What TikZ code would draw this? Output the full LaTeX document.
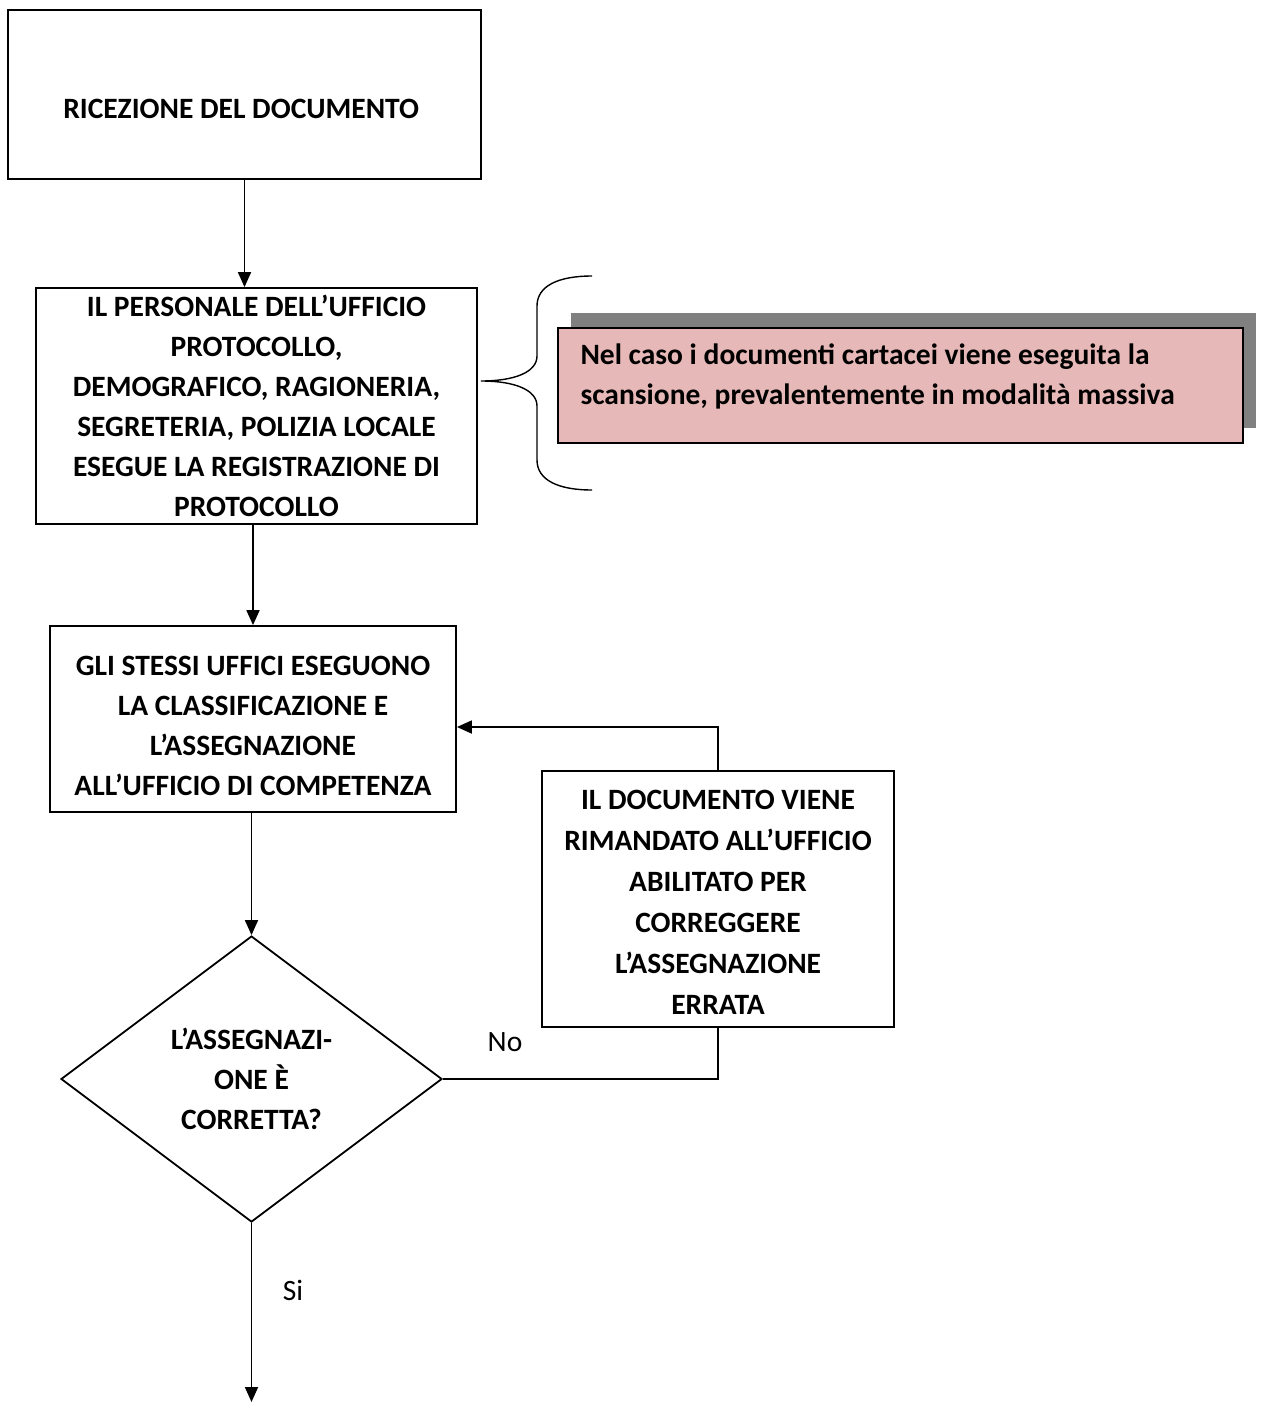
\documentclass[tikz,border=0pt]{standalone}
\usepackage{fontspec}
\setmainfont{Carlito}
\usetikzlibrary{arrows.meta,shapes.geometric,shadows}
\definecolor{notapink}{HTML}{E6B8B7}
\begin{document}
\begin{tikzpicture}[x=1pt, y=-1pt,
    box/.style={draw, line width=1.8pt, align=center, inner sep=0pt, font=\fontsize{29.5}{40}\selectfont\bfseries},
    decision/.style={draw, diamond, aspect=1.33, line width=1.8pt, align=center, inner sep=0pt, font=\fontsize{29.5}{40}\selectfont\bfseries},
    nota/.style={draw, line width=1.8pt, fill=notapink, text width=640pt, align=flush left, font=\fontsize{29.5}{40}\selectfont\bfseries,
        drop shadow={shadow xshift=13pt, shadow yshift=15pt, fill=gray, opacity=1}},
    arrow/.style={-{Triangle[length=15pt,width=13pt]}, line width=1.8pt},
    link/.style={line width=1.8pt},
    answer/.style={font=\fontsize{29.5}{40}\selectfont}
]
\useasboundingbox (0,0) rectangle (1267,1403);

\node[box, minimum width=473pt, minimum height=169pt, text height=54pt, text depth=7pt] (rec) at (244.5,94.5) {
    RICEZIONE DEL DOCUMENTO
};

\node[box, minimum width=441pt, minimum height=236pt] (pers) at (256.5,406) {
    IL PERSONALE DELL’UFFICIO\\
    PROTOCOLLO,\\
    DEMOGRAFICO, RAGIONERIA,\\
    SEGRETERIA, POLIZIA LOCALE\\
    ESEGUE LA REGISTRAZIONE DI\\
    PROTOCOLLO
};

\node[nota, minimum width=685pt, minimum height=115pt, text depth=62pt] (nota) at (900.5,385.5) {
    Nel caso i documenti cartacei viene eseguita la\\
    scansione, prevalentemente in modalità massiva
};

\node[box, minimum width=406pt, minimum height=186pt, text height=160pt, text depth=7pt] (class) at (253,719) {
    GLI STESSI UFFICI ESEGUONO\\
    LA CLASSIFICAZIONE E\\
    L’ASSEGNAZIONE\\
    ALL’UFFICIO DI COMPETENZA
};

\node[decision, minimum width=381pt, minimum height=286pt] (verifica) at (251.5,1079) {
    L’ASSEGNAZI-\\
    ONE È\\
    CORRETTA?
};

\node[box, minimum width=352pt, minimum height=256pt, text height=237pt, text depth=7pt,
    font=\fontsize{29.5}{41}\selectfont\bfseries] (rimanda) at (718,899) {
    IL DOCUMENTO VIENE\\
    RIMANDATO ALL’UFFICIO\\
    ABILITATO PER\\
    CORREGGERE\\
    L’ASSEGNAZIONE\\
    ERRATA
};

\node[answer] (no) at (505,1042) {No};
\node[answer] (si) at (293,1290) {Si};
\coordinate (fine) at (verifica.south |- 0,1402);

\draw[arrow] (rec.south) -- (rec.south |- pers.north);
\draw[arrow] (pers.south -| class.north) -- (class.north);
\draw[arrow] (class.south -| verifica.north) -- (verifica.north);
\draw[arrow] (verifica.south) -- (fine);
\draw[link] (verifica.east) -| (rimanda.south);
\draw[arrow] (rimanda.north) |- ([yshift=-8pt]class.east);

\draw[line width=1.4pt] (592,276) .. controls (558,276) and (537,286) .. (537,306) -- (537,356)
    .. controls (537,372) and (515,381) .. (481,381)
    .. controls (515,381) and (537,390) .. (537,406) -- (537,460)
    .. controls (537,480) and (558,490) .. (592,490);
\end{tikzpicture}
\end{document}
